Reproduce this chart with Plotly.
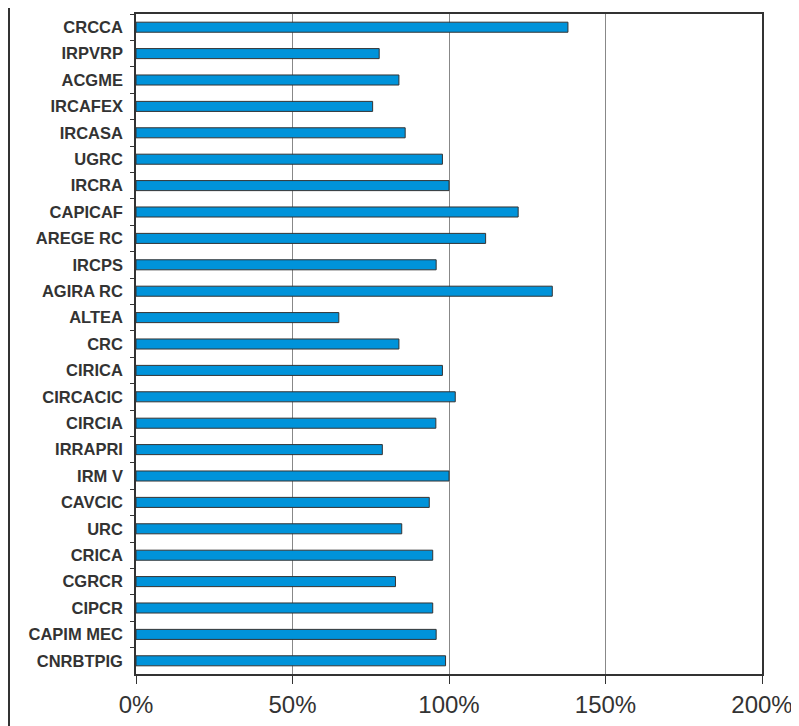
import plotly.graph_objects as go

categories = ["CRCCA", "IRPVRP", "ACGME", "IRCAFEX", "IRCASA", "UGRC", "IRCRA",
              "CAPICAF", "AREGE RC", "IRCPS", "AGIRA RC", "ALTEA", "CRC", "CIRICA",
              "CIRCACIC", "CIRCIA", "IRRAPRI", "IRM V", "CAVCIC", "URC", "CRICA",
              "CGRCR", "CIPCR", "CAPIM MEC", "CNRBTPIG"]
values = [1.38, 0.777, 0.84, 0.756, 0.86, 0.979, 1.0,
          1.221, 1.117, 0.959, 1.33, 0.648, 0.84, 0.979,
          1.02, 0.958, 0.787, 1.0, 0.937, 0.849, 0.948,
          0.829, 0.948, 0.959, 0.989]
x_ticks = [0, 0.5, 1.0, 1.5, 2.0]
x_tick_labels = ["0%", "50%", "100%", "150%", "200%"]

fig = go.Figure(go.Bar(
    y=categories, x=values, orientation="h",
    width=0.38,
    marker=dict(color="#0093DA", line=dict(color="#333333", width=1)),
))

# page body has an 8px margin, so the figure is sized to fit after it
W, H = 791, 718
ml, mr, mt, mb = 128, 37, 6, 52

fig.update_layout(
    width=W, height=H,
    margin=dict(l=ml, r=mr, t=mt, b=mb, pad=0, autoexpand=False),
    paper_bgcolor="white", plot_bgcolor="white",
    showlegend=False,
    font=dict(family="Liberation Sans, Arial, sans-serif", color="#333333"),
    shapes=[dict(type="line", xref="paper", yref="paper",
                 x0=(1 - ml) / (W - ml - mr), x1=(1 - ml) / (W - ml - mr),
                 y0=-mb / (H - mt - mb), y1=1 + mt / (H - mt - mb),
                 line=dict(color="#333333", width=2))],
)
fig.update_xaxes(
    range=[0, 2], tickvals=x_ticks, ticktext=x_tick_labels,
    showgrid=True, gridcolor="#888888", gridwidth=1,
    showline=True, linecolor="#333333", linewidth=1.5, mirror=True,
    ticks="outside", ticklen=8, tickcolor="#333333",
    tickfont=dict(size=24, color="#333333"),
    zeroline=False, fixedrange=True, automargin=False,
)
fig.update_yaxes(
    categoryorder="array", categoryarray=categories, autorange="reversed",
    showgrid=False,
    showline=True, linecolor="#333333", linewidth=1.5, mirror=True,
    ticks="outside", ticklen=4, tickcolor="#333333", tickson="boundaries",
    tickfont=dict(size=16.5, color="#333333", weight="bold"),
    ticklabelstandoff=8,
    fixedrange=True, automargin=False,
)

fig.write_html("out.html")
